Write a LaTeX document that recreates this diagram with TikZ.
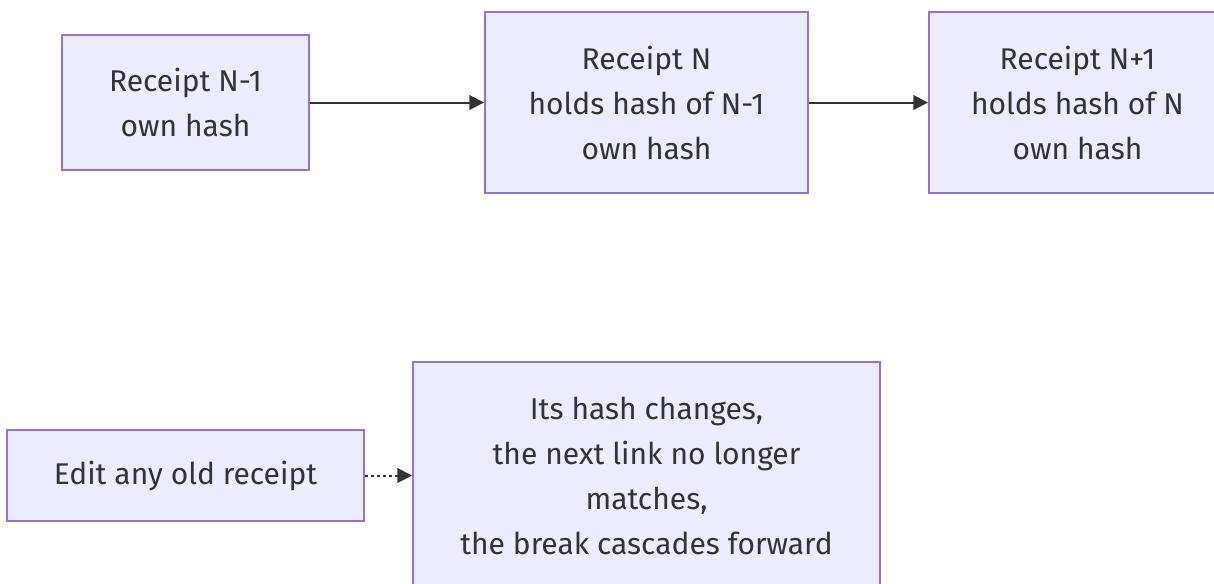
\documentclass[tikz,border=0pt]{standalone}
\usepackage{fontspec}
\setmainfont{Fira Sans}
\usetikzlibrary{arrows.meta}
\definecolor{boxfill}{HTML}{ECECFF}
\definecolor{boxborder}{HTML}{9370DB}
\definecolor{ink}{HTML}{333333}
\begin{document}
\begin{tikzpicture}[x=0.75pt,y=-0.75pt,
  box/.style={draw=boxborder, fill=boxfill, line width=1.5pt, inner sep=0pt,
    align=center, text=ink, font=\fontsize{22.5}{33.75}\selectfont},
  link/.style={draw=ink, line width=1.5pt, -{Triangle[length=11pt,width=11pt]}},
  dotlink/.style={link, dash pattern=on 2.25pt off 2.25pt}]
\useasboundingbox (0,0) rectangle (1214,583);
\node[box, minimum width=185.25pt, minimum height=101.25pt] (a) at (185.5,102.5) {Receipt N-1\\own hash};
\node[box, minimum width=242.25pt, minimum height=135.75pt] (b) at (646.5,102.5) {Receipt N\\holds hash of N-1\\own hash};
\node[box, minimum width=222.75pt, minimum height=135.75pt] (c) at (1077.5,102.5) {Receipt N+1\\holds hash of N\\own hash};
\node[box, minimum width=267.75pt, minimum height=68.25pt] (d) at (185.5,475.5) {Edit any old receipt};
\node[box, minimum width=350.25pt, minimum height=170.25pt] (e) at (646.5,475.5) {Its hash changes,\\the next link no longer\\matches,\\the break cascades forward};
\draw[link] (a) -- (b);
\draw[link] (b) -- (c);
\draw[dotlink] (d) -- (e);
\end{tikzpicture}
\end{document}
